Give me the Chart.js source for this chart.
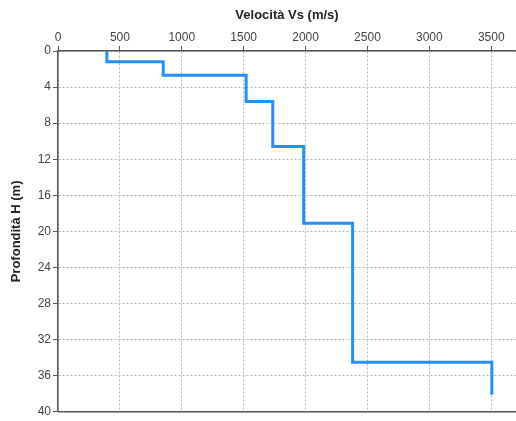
<!DOCTYPE html>
<html>
<head>
<meta charset="utf-8">
<script src="https://cdn.jsdelivr.net/npm/chart.js@4/dist/chart.umd.min.js"></script>
<style>
  html, body { margin: 0; padding: 0; background: #fff; }
  #wrap { width: 516px; height: 421px; }
</style>
</head>
<body>
<div id="wrap"><canvas id="profilo"></canvas></div>
<script>
// strati: velocita e profondita (m)
var velocita = [395, 850, 1520, 1735, 1985, 2380, 3505];
var topStrato = [0, 1.2, 2.7, 5.6, 10.6, 19.1, 34.5];
var baseStrato = [1.2, 2.7, 5.6, 10.6, 19.1, 34.5, 38.1];
var tickX = [0, 500, 1000, 1500, 2000, 2500, 3000, 3500];
var tickY = [0, 4, 8, 12, 16, 20, 24, 28, 32, 36, 40];

var punti = [];
for (var i = 0; i < velocita.length; i++) {
  punti.push({ x: velocita[i], y: topStrato[i] });
  punti.push({ x: velocita[i], y: baseStrato[i] });
}

var fontBase = "'Liberation Sans', Arial, sans-serif";

// linea scura sul fondo del grafico
var bordoSotto = {
  id: 'bordoSotto',
  afterDraw: function (chart) {
    var a = chart.chartArea, c = chart.ctx;
    c.save();
    c.strokeStyle = '#555';
    c.lineWidth = 1.5;
    c.beginPath();
    c.moveTo(a.left, a.bottom);
    c.lineTo(a.right, a.bottom);
    c.stroke();
    c.restore();
  }
};

function soloNumero(v) { return String(v); }

new Chart(document.getElementById("profilo"), {
  type: 'line',
  data: {
    datasets: [{
      data: punti,
      borderColor: '#2291f7',
      borderWidth: 3,
      pointRadius: 0,
      fill: false,
      tension: 0
    }]
  },
  options: {
    responsive: true,
    maintainAspectRatio: false,
    animation: false,
    layout: { padding: { top: 0, right: 0, bottom: 7, left: 0 } },
    plugins: { legend: { display: false }, tooltip: { enabled: false } },
    scales: {
      x: {
        type: 'linear',
        position: 'top',
        min: 0,
        max: 3700,
        afterBuildTicks: function (s) { s.ticks = tickX.map(function (v) { return { value: v }; }); },
        afterFit: function (s) { s.height = 51; },
        title: {
          display: true,
          text: 'Velocità Vs (m/s)',
          color: '#222',
          font: { family: fontBase, size: 13, weight: 'bold' },
          padding: { top: 8, bottom: 0 }
        },
        ticks: { color: '#444', font: { family: fontBase, size: 12 }, padding: 1, maxRotation: 0, callback: soloNumero },
        grid: { color: '#b5b5b5', tickColor: '#555', tickLength: 5, lineWidth: 1 },
        border: { color: '#555', width: 1.5, dash: [2, 2] }
      },
      y: {
        type: 'linear',
        reverse: true,
        min: 0,
        max: 40,
        afterBuildTicks: function (s) { s.ticks = tickY.map(function (v) { return { value: v }; }); },
        afterFit: function (s) { s.width = 58; },
        title: {
          display: true,
          text: 'Profondità H (m)',
          color: '#222',
          font: { family: fontBase, size: 13, weight: 'bold' },
          padding: { top: 9, bottom: 0 }
        },
        ticks: { color: '#444', font: { family: fontBase, size: 12 }, padding: 2, callback: soloNumero },
        grid: { color: '#b5b5b5', tickColor: '#555', tickLength: 5, lineWidth: 1 },
        border: { color: '#555', width: 1.5, dash: [2, 2] }
      }
    }
  },
  plugins: [bordoSotto]
});
</script>
</body>
</html>
